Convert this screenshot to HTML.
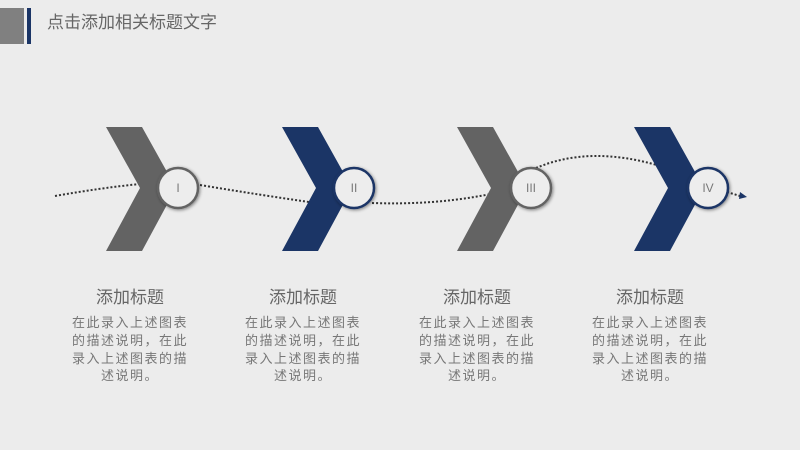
<!DOCTYPE html>
<html><head><meta charset="utf-8"><style>
body{margin:0;width:800px;height:450px;background:#ececec;overflow:hidden;position:relative;font-family:"Liberation Sans","Noto Sans CJK SC",sans-serif}
.t{position:absolute;left:47px;top:8px;font-size:17px;color:#666}
.col{position:absolute;top:285px;width:160px;text-align:center;color:#777}
.col h{display:block;font-size:17px;color:#666;margin-bottom:3px;line-height:26px}
.col p{margin:0;font-size:13px;line-height:17.8px;letter-spacing:1.5px;white-space:nowrap}
</style></head><body>
<div style="position:absolute;left:0;top:8px;width:24px;height:36px;background:#808080"></div>
<div style="position:absolute;left:27px;top:8px;width:4px;height:36px;background:#1b3566"></div>
<div class="t">点击添加相关标题文字</div>
<svg width="800" height="450" style="position:absolute;left:0;top:0">
<defs><filter id="sh" x="-50%" y="-50%" width="200%" height="200%"><feDropShadow dx="1" dy="1" stdDeviation="1.5" flood-color="#000" flood-opacity="0.45"/></filter></defs>
<g fill="none" stroke="#333" stroke-width="2" stroke-dasharray="2 2">
<path d="M55 196 Q100 188 140 184"/>
<path d="M200 185 Q260 195 316 203"/>
<path d="M372 203 Q430 205 480 196 L515 190"/>
<path d="M536 168 Q590 145 660 166"/>
<path d="M727 192 L740 196"/>
</g>
<polygon points="740,192 747,197 739,199" fill="#1b3566"/>
<g>
<polygon points="106,127 142,127 176,188 142,251 106,251 140,188" fill="#636363"/>
<polygon points="282,127 318,127 352,188 318,251 282,251 316,188" fill="#1b3566"/>
<polygon points="457,127 493,127 527,188 493,251 457,251 491,188" fill="#636363"/>
<polygon points="634,127 670,127 704,188 670,251 634,251 668,188" fill="#1b3566"/>
</g>
<g filter="url(#sh)" stroke-width="2.5" fill="#ededed">
<circle cx="178" cy="188" r="20" stroke="#636363"/>
<circle cx="354" cy="188" r="20" stroke="#1b3566"/>
<circle cx="531" cy="188" r="20" stroke="#636363"/>
<circle cx="708" cy="188" r="20" stroke="#1b3566"/>
</g>
<g font-family="Liberation Sans,sans-serif" font-size="12" fill="#777" text-anchor="middle">
<text x="178" y="192">I</text><text x="354" y="192">II</text><text x="531" y="192">III</text><text x="708" y="192">IV</text>
</g>
</svg>
<div class="col" style="left:50px"><h>添加标题</h><p>在此录入上述图表<br>的描述说明，在此<br>录入上述图表的描<br>述说明。</p></div>
<div class="col" style="left:223px"><h>添加标题</h><p>在此录入上述图表<br>的描述说明，在此<br>录入上述图表的描<br>述说明。</p></div>
<div class="col" style="left:397px"><h>添加标题</h><p>在此录入上述图表<br>的描述说明，在此<br>录入上述图表的描<br>述说明。</p></div>
<div class="col" style="left:570px"><h>添加标题</h><p>在此录入上述图表<br>的描述说明，在此<br>录入上述图表的描<br>述说明。</p></div>
</body></html>
